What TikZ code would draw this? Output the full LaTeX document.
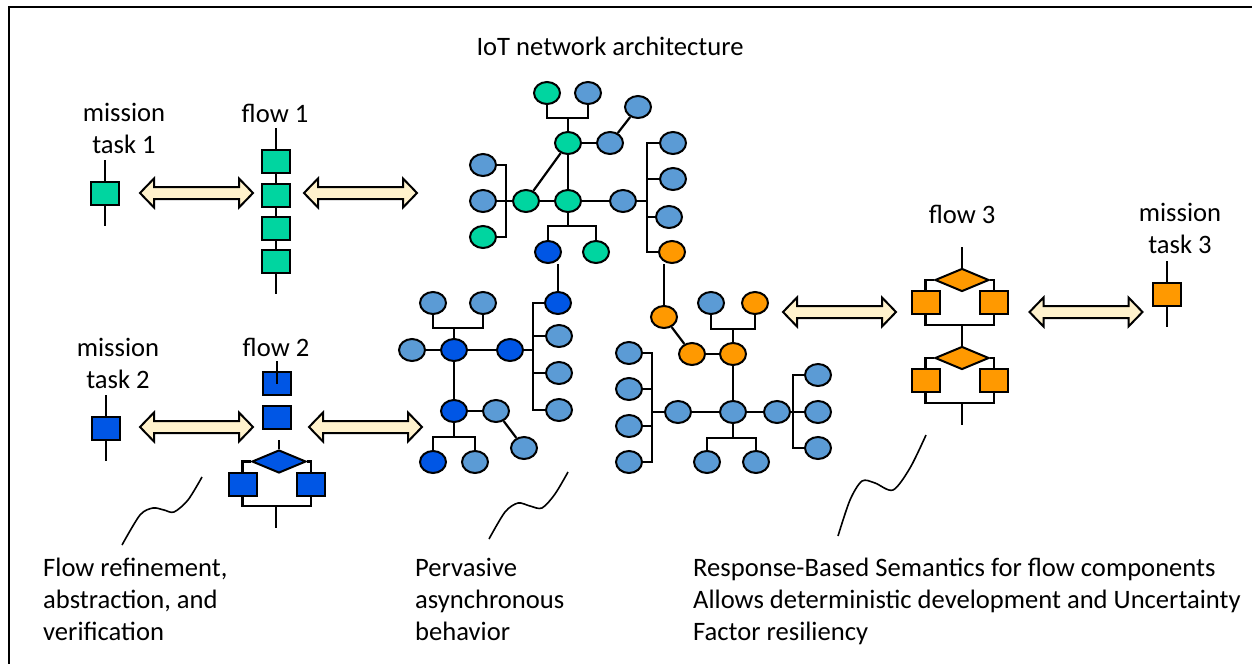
\documentclass[tikz,border=0pt]{standalone}
\usepackage{fontspec}
\setmainfont{Carlito}
\usetikzlibrary{shapes.geometric}

\definecolor{iotgreen}{RGB}{0,213,160}
\definecolor{iotlight}{RGB}{91,155,213}
\definecolor{iotdark}{RGB}{0,86,229}
\definecolor{iotorange}{RGB}{255,153,0}
\definecolor{iotcream}{RGB}{255,242,204}

\tikzset{
	txt/.style={inner sep=0, font=\fontsize{26.6}{32}\selectfont},
	nd/.style={ellipse, draw=black, line width=2pt, minimum width=26, minimum height=22, inner sep=0},
	gnode/.style={nd, fill=iotgreen},
	lnode/.style={nd, fill=iotlight},
	dnode/.style={nd, fill=iotdark},
	onode/.style={nd, fill=iotorange},
	sq/.style={rectangle, draw=black, line width=2pt, minimum width=28, minimum height=23, inner sep=0},
	gsq/.style={sq, fill=iotgreen},
	bsq/.style={sq, fill=iotdark},
	osq/.style={sq, fill=iotorange},
	dia/.style={diamond, draw=black, line width=2pt, minimum width=54, minimum height=23, inner sep=0},
	bdia/.style={dia, fill=iotdark},
	odia/.style={dia, fill=iotorange},
	wire/.style={black, line width=2.2pt},
	twoway/.pic={
		code={
\draw[black, line width=2pt, fill=iotcream](-56.5,0)--(-42.5,-14.5)--(-42.5,-6)--(42.5,-6)--(42.5,-14.5)--(56.5,0)--(42.5,14.5)--(42.5,6)--(-42.5,6)--(-42.5,14.5)--cycle;
		}
	}
}

\begin{document}
\begin{tikzpicture}[x=1pt,y=-1pt]
\useasboundingbox (0,0) rectangle (1252,664);
%Rahmen
\draw[black, line width=2.5pt] (1252,7)--(9,7)--(9,664);

%Texte (base = letzte Zeile)
\node[txt, anchor=base] (title) at (610,55) {IoT network architecture};
\node[txt, anchor=base, align=center] (lm1) at (124,153) {mission\\task 1};
\node[txt, anchor=base] (lf1) at (275,122) {flow 1};
\node[txt, anchor=base, align=center] (lm2) at (118,388) {mission\\task 2};
\node[txt, anchor=base] (lf2) at (276,356) {flow 2};
\node[txt, anchor=base] (lf3) at (962,223) {flow 3};
\node[txt, anchor=base, align=center] (lm3) at (1180,253) {mission\\task 3};
\node[txt, anchor=base west, align=left] (nref) at (43,640) {Flow refinement,\\abstraction, and\\verification};
\node[txt, anchor=base west, align=left] (nasy) at (415,640) {Pervasive\\asynchronous\\behavior};
\node[txt, anchor=base west, align=left] (nsem) at (693,640) {Response-Based Semantics for flow components\\Allows deterministic development and Uncertainty\\Factor resiliency};

%Doppelpfeile
\path (196.5,193) pic {twoway};
\path (360.5,193) pic {twoway};
\path (196.5,427) pic {twoway};
\path (365.5,427) pic {twoway};
\path (839.5,312) pic {twoway};
\path (1086,312) pic {twoway};

%mission task 1 / flow 1
\node[gsq] (m1) at (105,193) {};
\coordinate (m1top) at (105,160);
\coordinate (m1bot) at (105,226);
\draw[wire] (m1top)--(m1)--(m1bot);
\node[gsq] (f1a) at (276,161) {};
\node[gsq] (f1b) at (276,195) {};
\node[gsq] (f1c) at (276,228) {};
\node[gsq] (f1d) at (276,261) {};
\coordinate (f1top) at (276,128);
\coordinate (f1bot) at (276,294);
\draw[wire] (f1top)--(f1a)--(f1b)--(f1c)--(f1d)--(f1bot);

%mission task 2 / flow 2
\node[bsq] (m2) at (106,428) {};
\coordinate (m2top) at (106,395);
\coordinate (m2bot) at (106,461);
\draw[wire] (m2top)--(m2)--(m2bot);
\node[bsq] (f2a) at (277,383.5) {};
\node[bsq] (f2b) at (277,417) {};
\node[bdia] (f2d) at (279,461.5) {};
\node[bsq] (f2l) at (242.5,484.5) {};
\node[bsq] (f2r) at (311,484.5) {};
\coordinate (f2top) at (277,361);
\coordinate (f2mid) at (279,440);
\coordinate (f2j) at (276,506);
\coordinate (f2bot) at (276,528);
\draw[wire] (f2top)--(f2a.center);
\draw[wire] (f2mid)--(f2d);
\draw[wire] (f2d.west)-|(f2l);
\draw[wire] (f2d.east)-|(f2r);
\draw[wire] (f2l)|-(f2j)-|(f2r);
\draw[wire] (f2j)--(f2bot);

%flow 3 / mission task 3
\node[odia] (f3d1) at (962,280) {};
\node[osq] (f3a) at (925.5,302.5) {};
\node[osq] (f3b) at (994,302.5) {};
\node[odia] (f3d2) at (962,358) {};
\node[osq] (f3c) at (925.5,380.5) {};
\node[osq] (f3d) at (994,380.5) {};
\coordinate (f3top) at (962,247);
\coordinate (f3j1) at (962,325);
\coordinate (f3j2) at (962,403);
\coordinate (f3bot) at (962,425);
\draw[wire] (f3top)--(f3d1);
\draw[wire] (f3d1.west)-|(f3a);
\draw[wire] (f3d1.east)-|(f3b);
\draw[wire] (f3a)|-(f3j1)-|(f3b);
\draw[wire] (f3j1)--(f3d2);
\draw[wire] (f3d2.west)-|(f3c);
\draw[wire] (f3d2.east)-|(f3d);
\draw[wire] (f3c)|-(f3j2)-|(f3d);
\draw[wire] (f3j2)--(f3bot);
\node[osq] (m3) at (1167,294.5) {};
\coordinate (m3top) at (1167,261);
\coordinate (m3bot) at (1167,327);
\draw[wire] (m3top)--(m3)--(m3bot);

%IoT Netz oben
\node[gnode] (tg1) at (547,93) {};
\node[lnode] (tb1) at (588,93) {};
\node[lnode] (tb2) at (638,107) {};
\node[gnode] (thub) at (568,143) {};
\node[lnode] (tb3) at (610,143) {};
\node[lnode] (tl1) at (483,165) {};
\node[lnode] (tl2) at (483,201) {};
\node[gnode] (tl3) at (483,237) {};
\node[gnode] (tg3) at (526,201) {};
\node[gnode] (tg4) at (568,201) {};
\node[lnode] (tb4) at (623,201) {};
\node[lnode] (tr1) at (673,143) {};
\node[lnode] (tr2) at (673,179) {};
\node[lnode] (tr3) at (669,217) {};
\node[onode] (o1) at (672,252) {};
\node[dnode] (d1) at (548,252) {};
\node[gnode] (tg5) at (596,252) {};
\coordinate (tj1) at (568,118);
\coordinate (tj2) at (568,226);
\coordinate (tlb1) at (506,165);
\coordinate (tlb3) at (506,237);
\coordinate (trb1) at (647,143);
\coordinate (trb2) at (647,179);
\coordinate (trb3) at (647,217);
\coordinate (trb4) at (647,252);
\coordinate (trbm) at (647,201);
\draw[wire] (tg1)|-(tj1)-|(tb1);
\draw[wire] (thub)--(tj1);
\draw[wire] (thub)--(tb3);
\draw[wire] (tb2)--(tb3);
\draw[wire] (thub)--(tg4);
\draw[wire] (thub)--(tg3);
\draw[wire] (tl1)--(tlb1)--(tlb3)--(tl3);
\draw[wire] (tl2)--(tg3)--(tg4)--(tb4)--(trbm);
\draw[wire] (tr1)--(trb1)--(trb4)--(o1);
\draw[wire] (tr2)--(trb2);
\draw[wire] (tr3)--(trb3);
\draw[wire] (tg4)--(tj2);
\draw[wire] (d1)|-(tj2)-|(tg5);

%IoT Netz links
\node[dnode] (d2) at (558,303) {};
\node[lnode] (lb1) at (559,336) {};
\node[lnode] (lb2) at (559,373) {};
\node[lnode] (lb3) at (559,410) {};
\node[lnode] (lb0) at (412,350) {};
\node[dnode] (d3) at (454,350) {};
\node[dnode] (d4) at (510,350) {};
\node[lnode] (la1) at (433,303) {};
\node[lnode] (la2) at (483,303) {};
\node[dnode] (d5) at (454,411) {};
\node[lnode] (lc1) at (496,411) {};
\node[lnode] (lc2) at (524,448) {};
\node[dnode] (d6) at (433,462) {};
\node[lnode] (lc3) at (475,462) {};
\coordinate (bb1) at (533,303);
\coordinate (bb2) at (533,336);
\coordinate (bb3) at (533,373);
\coordinate (bb4) at (533,410);
\coordinate (bb5) at (533,350);
\coordinate (bj1) at (454,328);
\coordinate (bj2) at (454,437);
\draw[wire] (d2)--(d2 |- d1.south);
\draw[wire] (d2)--(bb1)--(bb4)--(lb3);
\draw[wire] (lb1)--(bb2);
\draw[wire] (lb2)--(bb3);
\draw[wire] (lb0)--(d3)--(d4)--(bb5);
\draw[wire] (d3)--(bj1);
\draw[wire] (la1)|-(bj1)-|(la2);
\draw[wire] (d3)--(d5);
\draw[wire] (d5)--(lc1);
\draw[wire] (lc1)--(lc2);
\draw[wire] (d5)--(bj2);
\draw[wire] (d6)|-(bj2)-|(lc3);

%IoT Netz rechts
\node[onode] (o2) at (664,317) {};
\node[onode] (o3) at (692,354) {};
\node[onode] (o4) at (733,354) {};
\node[lnode] (rb1) at (711,303) {};
\node[onode] (o5) at (755,303) {};
\node[lnode] (rh) at (733,412) {};
\node[lnode] (rb2) at (678,412) {};
\node[lnode] (rb3) at (777,412) {};
\node[lnode] (rl1) at (629,353) {};
\node[lnode] (rl2) at (629,389) {};
\node[lnode] (rl3) at (629,426) {};
\node[lnode] (rl4) at (629,462) {};
\node[lnode] (rb4) at (707,462) {};
\node[lnode] (rb5) at (756,462) {};
\node[lnode] (rr1) at (818,375) {};
\node[lnode] (rr2) at (818,412) {};
\node[lnode] (rr3) at (818,448) {};
\coordinate (rj1) at (733,329);
\coordinate (rj2) at (733,438);
\coordinate (rlb1) at (652,353);
\coordinate (rlb2) at (652,389);
\coordinate (rlb3) at (652,426);
\coordinate (rlb4) at (652,462);
\coordinate (rlbm) at (652,412);
\coordinate (rrb1) at (793,375);
\coordinate (rrb3) at (793,448);
\draw[wire] (o2)--(o2 |- o1.south);
\draw[wire] (o2)--(o3);
\draw[wire] (o3)--(o4);
\draw[wire] (o4)--(rj1);
\draw[wire] (rb1)|-(rj1)-|(o5);
\draw[wire] (o4)--(rh);
\draw[wire] (rlbm)--(rb2)--(rh)--(rb3)--(rr2);
\draw[wire] (rl1)--(rlb1)--(rlb4)--(rl4);
\draw[wire] (rl2)--(rlb2);
\draw[wire] (rl3)--(rlb3);
\draw[wire] (rh)--(rj2);
\draw[wire] (rb4)|-(rj2)-|(rb5);
\draw[wire] (rr1)--(rrb1)--(rrb3)--(rr3);

%Wellenlinien
\draw[black, line width=1.6pt] plot[smooth] coordinates {(122,545) (140,515) (153,508) (164,510) (174,512) (188,500) (202,477)};
\draw[black, line width=1.6pt] plot[smooth] coordinates {(489,539) (505,512) (518,503) (530,506) (542,508) (555,494) (568,472)};
\draw[black, line width=1.6pt] plot[smooth] coordinates {(838,536) (850,500) (862,481) (875,483) (893,490) (910,468) (926,435)};
\end{tikzpicture}
\end{document}
